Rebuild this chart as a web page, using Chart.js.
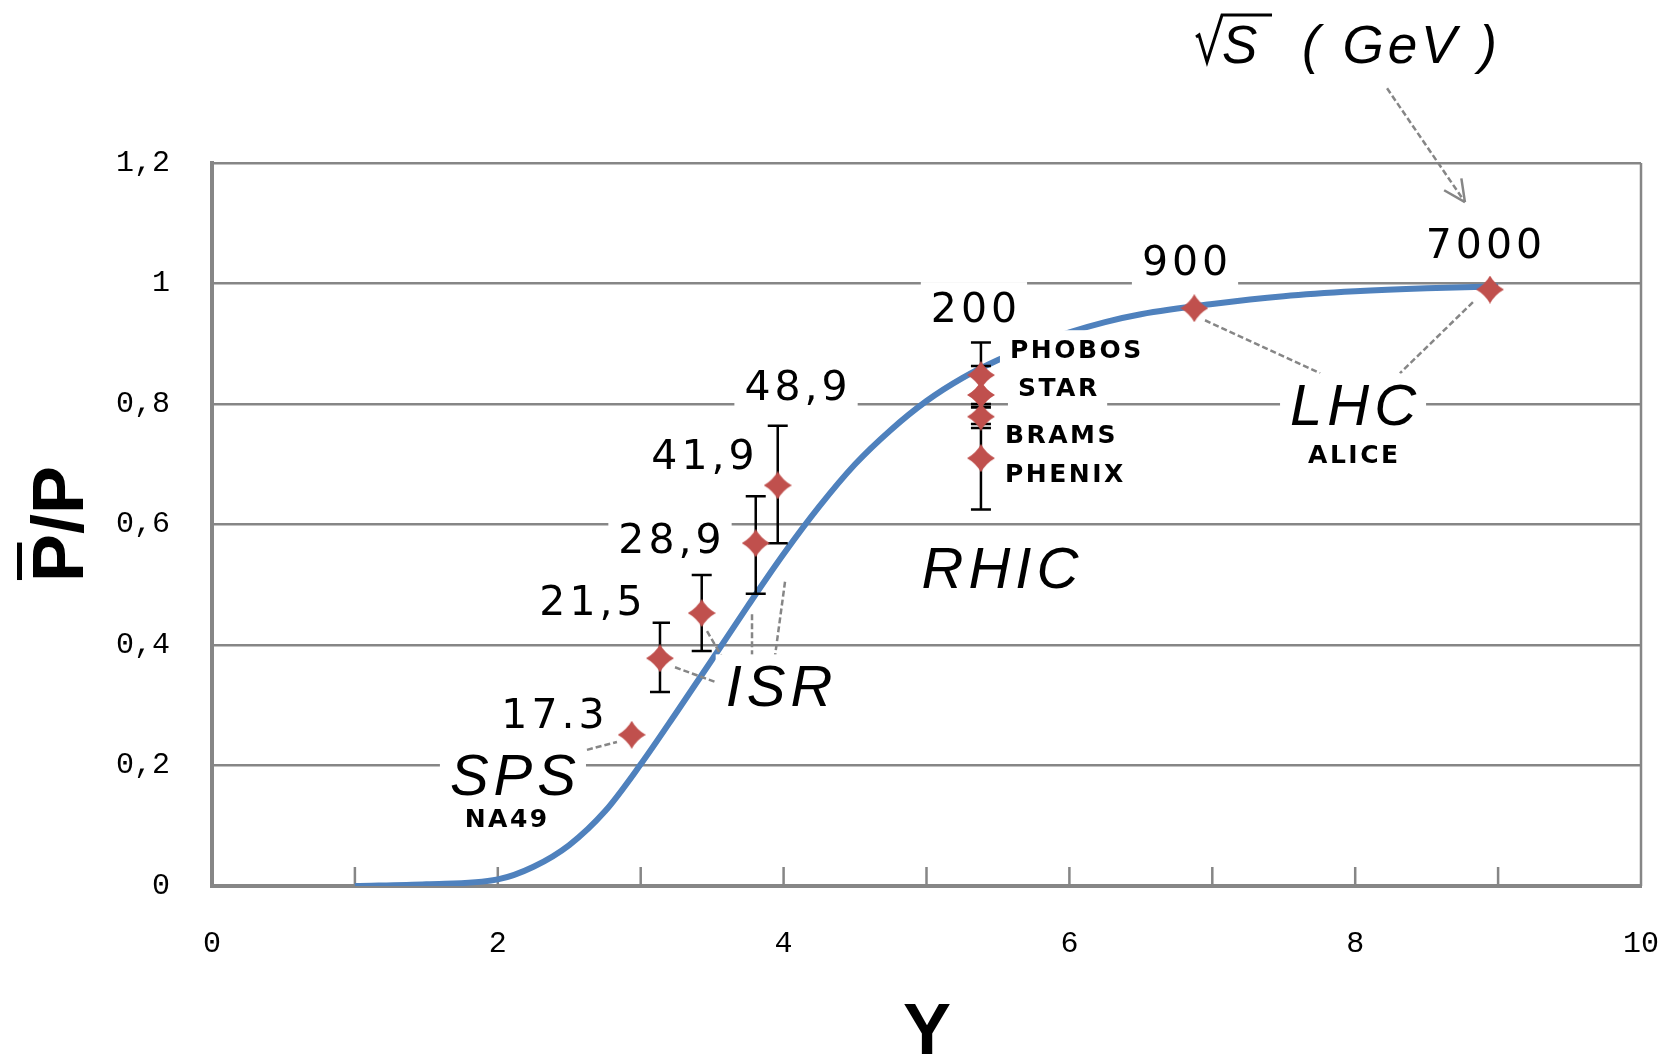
<!DOCTYPE html>
<html>
<head>
<meta charset="utf-8">
<style>
  html, body { margin: 0; padding: 0; background: #fff; }
</style>
<script src="https://cdn.jsdelivr.net/npm/chart.js@4.4.1/dist/chart.umd.min.js"></script>
</head>
<body>
<canvas id="ratioChart" width="1670" height="1060"></canvas>
<script>
// fitted curve, pbar/p ratio against rapidity Y
const curveRapidity = [1.0, 1.5, 2.0, 2.25, 2.5, 2.75, 3.0, 3.25, 3.5, 3.75, 4.0, 4.25, 4.5, 4.75, 5.0, 5.25, 5.5, 5.75, 6.0, 6.25, 6.5, 7.0, 7.5, 8.0, 8.5, 9.0];
const curveRatio = [0.000, 0.003, 0.011, 0.032, 0.068, 0.124, 0.202, 0.288, 0.376, 0.465, 0.551, 0.630, 0.700, 0.757, 0.805, 0.843, 0.873, 0.898, 0.919, 0.936, 0.949, 0.966, 0.979, 0.987, 0.992, 0.995];

// measured points (sqrt(s) in GeV)
const energies = ['17.3', '21,5', '28,9', '41,9', '48,9', '200', '200', '200', '200', '900', '7000'];
const pointRapidity = [2.937, 3.135, 3.427, 3.805, 3.959, 5.381, 5.381, 5.381, 5.381, 6.874, 8.943];
const pointRatio = [0.251, 0.378, 0.453, 0.569, 0.665, 0.848, 0.815, 0.779, 0.710, 0.959, 0.990];
const errLow = [null, 0.322, 0.390, 0.485, 0.569, 0.794, 0.767, 0.760, 0.625, null, null];
const errHigh = [null, 0.437, 0.516, 0.647, 0.764, 0.902, 0.863, 0.800, 0.795, null, null];

const xTickLabels = ['0', '2', '4', '6', '8', '10'];
const yTickLabels = ['0', '0,2', '0,4', '0,6', '0,8', '1', '1,2'];

// annotation text, placed in data units
const labelStyles = {
  energy: { font: '41px "DejaVu Sans"', spacing: 4, cap: 30 },
  machine: { font: 'italic 58px "Liberation Sans"', spacing: 5, cap: 41.5 },
  experiment: { font: 'bold 25px "DejaVu Sans"', spacing: 2.5, cap: 18 }
};
const textLabels = [
  { text: '17.3', x: 2.386, y: 0.262, style: 'energy' },
  { text: '21,5', x: 2.652, y: 0.450, style: 'energy' },
  { text: '28,9', x: 3.205, y: 0.553, style: 'energy' },
  { text: '41,9', x: 3.436, y: 0.692, style: 'energy' },
  { text: '48,9', x: 4.087, y: 0.807, style: 'energy' },
  { text: '200', x: 5.332, y: 0.936, style: 'energy' },
  { text: '900', x: 6.809, y: 1.014, style: 'energy' },
  { text: '7000', x: 8.901, y: 1.042, style: 'energy' },
  { text: 'SPS', x: 2.106, y: 0.151, style: 'machine' },
  { text: 'ISR', x: 3.968, y: 0.299, style: 'machine' },
  { text: 'RHIC', x: 5.514, y: 0.495, style: 'machine' },
  { text: 'LHC', x: 7.985, y: 0.765, style: 'machine' },
  { text: 'NA49', x: 2.057, y: 0.098, style: 'experiment' },
  { text: 'ALICE', x: 7.985, y: 0.702, style: 'experiment' },
  { text: 'PHOBOS', x: 5.584, y: 0.876, style: 'experiment', left: true },
  { text: 'STAR', x: 5.640, y: 0.813, style: 'experiment', left: true },
  { text: 'BRAMS', x: 5.549, y: 0.735, style: 'experiment', left: true },
  { text: 'PHENIX', x: 5.549, y: 0.671, style: 'experiment', left: true }
];
const leaderLines = [
  [2.624, 0.226, 2.834, 0.239],
  [3.240, 0.363, 3.541, 0.337],
  [3.464, 0.423, 3.611, 0.363],
  [3.779, 0.451, 3.779, 0.382],
  [4.010, 0.505, 3.940, 0.382],
  [6.949, 0.939, 7.754, 0.851],
  [8.824, 0.969, 8.313, 0.851]
];

const grey = '#868686';

// four point star used as marker
const star = document.createElement('canvas');
star.width = 28; star.height = 28;
(function() {
  const c = star.getContext('2d');
  c.fillStyle = '#C0504D';
  c.beginPath();
  c.moveTo(14, 0);
  c.quadraticCurveTo(19, 9, 28, 14);
  c.quadraticCurveTo(19, 19, 14, 28);
  c.quadraticCurveTo(9, 19, 0, 14);
  c.quadraticCurveTo(9, 9, 14, 0);
  c.fill();
})();

const decorations = {
  id: 'decorations',
  beforeDatasetsDraw(chart) {
    const {ctx, chartArea: a, scales: {x}} = chart;
    ctx.save();
    ctx.strokeStyle = grey;
    ctx.lineWidth = 2.5;
    ctx.beginPath();
    ctx.moveTo(a.right, a.top);
    ctx.lineTo(a.right, a.bottom);
    for (let v = 1; v < 10; v++) {
      const px = x.getPixelForValue(v);
      ctx.moveTo(px, a.bottom);
      ctx.lineTo(px, a.bottom - 19);
    }
    ctx.stroke();
    ctx.restore();
  },
  beforeDatasetDraw(chart, args) {
    if (args.index !== 0) return;
    const {ctx, scales: {x, y}} = chart;
    ctx.save();
    ctx.strokeStyle = '#000';
    ctx.lineWidth = 2.5;
    ctx.beginPath();
    for (let i = 0; i < pointRapidity.length; i++) {
      if (errLow[i] === null) continue;
      const px = x.getPixelForValue(pointRapidity[i]);
      const lo = y.getPixelForValue(errLow[i]);
      const hi = y.getPixelForValue(errHigh[i]);
      ctx.moveTo(px, lo); ctx.lineTo(px, hi);
      ctx.moveTo(px - 10, lo); ctx.lineTo(px + 10, lo);
      ctx.moveTo(px - 10, hi); ctx.lineTo(px + 10, hi);
    }
    ctx.stroke();
    ctx.restore();
  },
  afterDatasetsDraw(chart) {
    const {ctx, scales: {x, y}} = chart;
    const X = v => x.getPixelForValue(v);
    const Y = v => y.getPixelForValue(v);
    ctx.save();

    // dashed leader lines
    ctx.strokeStyle = grey;
    ctx.lineWidth = 2.5;
    ctx.setLineDash([6, 3]);
    ctx.beginPath();
    leaderLines.forEach(l => {
      ctx.moveTo(X(l[0]), Y(l[1]));
      ctx.lineTo(X(l[2]), Y(l[3]));
    });
    // arrow from the energy caption
    const ax0 = X(8.223), ay0 = Y(1.324), ax1 = X(8.768), ay1 = Y(1.135);
    ctx.moveTo(ax0, ay0);
    ctx.lineTo(ax1, ay1);
    ctx.stroke();
    ctx.setLineDash([]);
    const ang = Math.atan2(ay1 - ay0, ax1 - ax0);
    ctx.beginPath();
    [0.45, -0.45].forEach(d => {
      ctx.moveTo(ax1, ay1);
      ctx.lineTo(ax1 - 24 * Math.cos(ang + d), ay1 - 24 * Math.sin(ang + d));
    });
    ctx.stroke();

    // labels on white boxes
    textLabels.forEach(l => {
      const st = labelStyles[l.style];
      ctx.font = st.font;
      ctx.letterSpacing = st.spacing + 'px';
      const w = ctx.measureText(l.text).width - st.spacing;
      const bx = l.left ? X(l.x) : X(l.x) - w / 2;
      const by = Y(l.y);
      ctx.fillStyle = '#fff';
      ctx.fillRect(bx - 10, by - st.cap - 10, w + 20, st.cap + 20);
      ctx.fillStyle = '#000';
      ctx.textAlign = 'left';
      ctx.textBaseline = 'alphabetic';
      ctx.fillText(l.text, bx, by);
    });

    // sqrt(s) (GeV) caption
    const sx = X(7.068), sy = Y(1.366);
    ctx.letterSpacing = '0px';
    ctx.font = 'italic 53px "Liberation Sans"';
    ctx.fillStyle = '#000';
    ctx.fillText('S', sx, sy);
    ctx.letterSpacing = '4px';
    ctx.fillText('( GeV )', X(7.628), sy);
    ctx.letterSpacing = '0px';
    ctx.strokeStyle = '#000';
    ctx.lineWidth = 3;
    ctx.beginPath();
    ctx.moveTo(sx - 26, sy - 26);
    ctx.lineTo(sx - 23, sy - 28);
    ctx.lineTo(sx - 15, sy - 1);
    ctx.lineTo(sx, sy - 48);
    ctx.lineTo(sx + 50, sy - 48);
    ctx.stroke();

    // axis titles
    ctx.font = 'bold 72px "Liberation Sans"';
    ctx.textAlign = 'center';
    ctx.fillText('Y', 927, 1054);
    ctx.save();
    ctx.translate(83, 524);
    ctx.rotate(-Math.PI / 2);
    ctx.fillText('P/P', 0, 0);
    const tw = ctx.measureText('P/P').width;
    const pw = ctx.measureText('P').width;
    ctx.fillRect(-tw / 2 + 2, -66, pw * 0.78, 5);
    ctx.restore();

    ctx.restore();
  }
};

const points = pointRapidity.map((v, i) => ({x: v, y: pointRatio[i]}));
const curve = curveRapidity.map((v, i) => ({x: v, y: curveRatio[i]}));

const tickFont = {family: '"Liberation Mono"', size: 30};

new Chart(document.getElementById('ratioChart').getContext('2d'), {
  type: 'scatter',
  data: {
    datasets: [
      {
        label: 'data',
        data: points,
        order: 0,
        pointStyle: star,
        pointRadius: 14,
        pointHoverRadius: 14
      },
      {
        label: 'fit',
        type: 'line',
        data: curve,
        order: 1,
        borderColor: '#4F81BD',
        borderWidth: 6,
        pointRadius: 0,
        cubicInterpolationMode: 'monotone',
        fill: false
      }
    ]
  },
  options: {
    responsive: false,
    animation: false,
    devicePixelRatio: 1,
    layout: {padding: {top: 163, right: 29, left: 0, bottom: 0}},
    plugins: {legend: {display: false}, tooltip: {enabled: false}},
    scales: {
      x: {
        type: 'linear', min: 0, max: 10,
        afterFit: s => { s.height = 174; },
        ticks: {stepSize: 2, padding: 0, color: '#000', font: tickFont,
          callback: (v, i) => xTickLabels[i]},
        // invisible tick marks only push the labels down
        grid: {display: true, drawOnChartArea: false, drawTicks: true, tickLength: 40,
          tickColor: 'rgba(0,0,0,0)'},
        border: {display: true, color: grey, width: 4}
      },
      y: {
        min: 0, max: 1.2,
        afterFit: s => { s.width = 212; },
        ticks: {stepSize: 0.2, padding: 42, color: '#000', font: tickFont,
          callback: (v, i) => yTickLabels[i]},
        grid: {color: grey, lineWidth: 2.5, drawTicks: false},
        border: {display: true, color: grey, width: 4}
      }
    }
  },
  plugins: [decorations]
});
</script>
</body>
</html>
